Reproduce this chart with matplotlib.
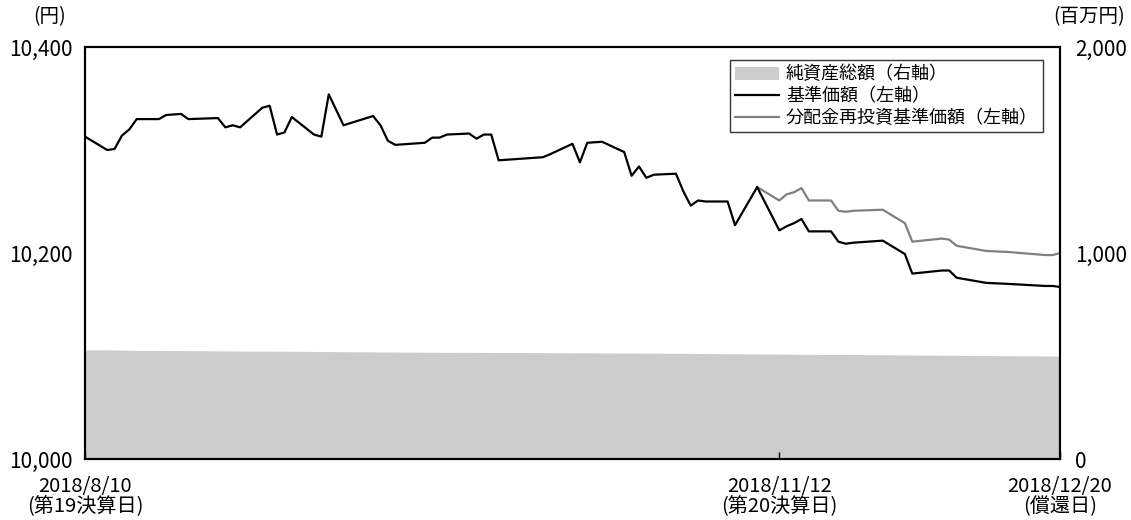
import pandas as pd
import matplotlib
matplotlib.use("Agg")
import matplotlib.pyplot as plt
from matplotlib.patches import Patch
from matplotlib.lines import Line2D

plt.rcParams["font.family"] = ["Noto Sans CJK JP", "DejaVu Sans"]

# 基準価額（左軸, 円）
nav_dates = [
    "2018-08-10", "2018-08-13", "2018-08-14", "2018-08-15", "2018-08-16", "2018-08-17",
    "2018-08-20", "2018-08-21", "2018-08-23", "2018-08-24", "2018-08-28", "2018-08-29",
    "2018-08-30", "2018-08-31", "2018-09-03", "2018-09-04", "2018-09-05", "2018-09-06",
    "2018-09-07", "2018-09-10", "2018-09-11", "2018-09-12", "2018-09-14", "2018-09-18",
    "2018-09-19", "2018-09-20", "2018-09-21", "2018-09-25", "2018-09-26", "2018-09-27",
    "2018-09-28", "2018-10-01", "2018-10-02", "2018-10-03", "2018-10-04", "2018-10-05",
    "2018-10-11", "2018-10-12", "2018-10-15", "2018-10-16", "2018-10-17", "2018-10-19",
    "2018-10-22", "2018-10-23", "2018-10-24", "2018-10-25", "2018-10-26", "2018-10-29",
    "2018-10-30", "2018-10-31", "2018-11-01", "2018-11-02", "2018-11-05", "2018-11-06",
    "2018-11-09", "2018-11-12", "2018-11-13", "2018-11-14", "2018-11-15", "2018-11-16",
    "2018-11-19", "2018-11-20", "2018-11-21", "2018-11-22", "2018-11-26", "2018-11-29",
    "2018-11-30", "2018-12-04", "2018-12-05", "2018-12-06", "2018-12-10", "2018-12-13",
    "2018-12-18", "2018-12-19", "2018-12-20",
]
nav = [
    10313, 10300, 10301, 10314, 10320, 10330,
    10330, 10334, 10335, 10330, 10331, 10322,
    10324, 10322, 10341, 10343, 10315, 10317,
    10332, 10315, 10313, 10354, 10324, 10333,
    10324, 10309, 10305, 10307, 10312, 10312,
    10315, 10316, 10311, 10315, 10315, 10290,
    10293, 10296, 10306, 10288, 10307, 10308,
    10298, 10275, 10284, 10273, 10276, 10277,
    10260, 10246, 10251, 10250, 10250, 10227,
    10264, 10222, 10226, 10229, 10233, 10221,
    10221, 10211, 10209, 10210, 10212, 10199,
    10180, 10183, 10183, 10176, 10171, 10170,
    10168, 10168, 10167,
]

# 分配金再投資基準価額（左軸, 円）
reinv_dates = [
    "2018-11-09", "2018-11-12", "2018-11-13", "2018-11-14", "2018-11-15", "2018-11-16",
    "2018-11-19", "2018-11-20", "2018-11-21", "2018-11-22", "2018-11-26", "2018-11-29",
    "2018-11-30", "2018-12-04", "2018-12-05", "2018-12-06", "2018-12-10", "2018-12-13",
    "2018-12-18", "2018-12-19", "2018-12-20",
]
reinv = [
    10264, 10251, 10257, 10259, 10263, 10251,
    10251, 10241, 10240, 10241, 10242, 10229,
    10211, 10214, 10213, 10207, 10202, 10201,
    10198, 10198, 10200,
]

# 純資産総額（右軸, 百万円）
aum_dates = [
    "2018-08-10", "2018-08-13", "2018-08-17", "2018-08-24", "2018-08-31", "2018-09-07",
    "2018-09-14", "2018-09-21", "2018-09-28", "2018-10-05", "2018-10-12", "2018-10-19",
    "2018-10-26", "2018-11-02", "2018-11-09", "2018-11-16", "2018-11-22", "2018-11-30",
    "2018-12-07", "2018-12-14", "2018-12-20",
]
aum = [
    529, 530, 527, 526, 524, 523,
    521, 519, 518, 517, 516, 515,
    514, 512, 510, 508, 507, 505,
    503, 501, 500,
]

tick_dates = ["2018-08-10", "2018-11-12", "2018-12-20"]
tick_labels = ["2018/8/10\n(第19決算日)", "2018/11/12\n(第20決算日)", "2018/12/20\n(償還日)"]

nav_dates = pd.to_datetime(nav_dates)
reinv_dates = pd.to_datetime(reinv_dates)
aum_dates = pd.to_datetime(aum_dates)
tick_dates = pd.to_datetime(tick_dates)

fig = plt.figure(figsize=(11.31, 5.2), dpi=100)
ax = fig.add_axes([85 / 1131, 1 - 459 / 520, 975 / 1131, 412 / 520])
ax_r = ax.twinx()

ax_r.fill_between(aum_dates, aum, 0, color="#cccccc", lw=0)
ax_r.set_ylim(0, 2000)
ax_r.set_yticks([0, 1000, 2000])
ax_r.set_yticklabels(["0", "1,000", "2,000"])

ax.set_zorder(ax_r.get_zorder() + 1)
ax.patch.set_visible(False)
ax.plot(reinv_dates, reinv, color="#808080", lw=1.6)
ax.plot(nav_dates, nav, color="black", lw=1.6)
ax.set_ylim(10000, 10400)
ax.set_yticks([10000, 10200, 10400])
ax.set_yticklabels(["10,000", "10,200", "10,400"])
ax.set_xlim(tick_dates[0], tick_dates[-1])
ax.set_xticks(tick_dates)
ax.set_xticklabels(tick_labels, linespacing=0.95)

for a in (ax, ax_r):
    for s in a.spines.values():
        s.set_linewidth(1.5)
ax.tick_params(axis="y", length=0, labelsize=15, pad=9)
ax_r.tick_params(axis="y", length=0, labelsize=15, pad=11)
ax.tick_params(axis="x", direction="in", length=5, width=1, labelsize=14.5, pad=12)

fig.text(50 / 1131, 1 - 17 / 520, "(円)", fontsize=14, ha="center", va="center")
fig.text(1089 / 1131, 1 - 17 / 520, "(百万円)", fontsize=14, ha="center", va="center")

handles = [
    Patch(facecolor="#cccccc", edgecolor="none"),
    Line2D([], [], color="black", lw=1.6),
    Line2D([], [], color="#808080", lw=1.6),
]
labels = ["純資産総額（右軸）", "基準価額（左軸）", "分配金再投資基準価額（左軸）"]
leg = ax.legend(handles, labels, loc="upper right", bbox_to_anchor=(0.983, 0.968),
                fontsize=13, frameon=True, fancybox=False, handlelength=2.4,
                handletextpad=0.4, borderpad=0.3, labelspacing=0.2, borderaxespad=0)
leg.get_frame().set_edgecolor("black")
leg.get_frame().set_linewidth(1.0)

fig.savefig("out.png", dpi=100)
